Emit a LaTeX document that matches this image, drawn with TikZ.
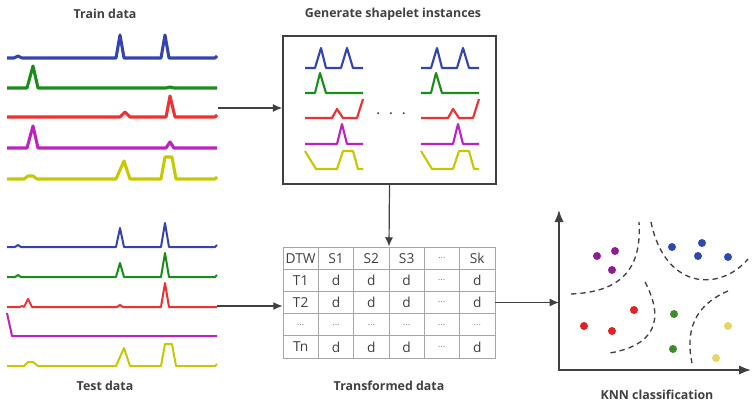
\documentclass[tikz,border=0pt]{standalone}
\usepackage{fontspec}
\setmainfont{Open Sans}
\usetikzlibrary{arrows.meta}
\definecolor{sblue}{HTML}{3344B0}
\definecolor{sgreen}{HTML}{1A8C1A}
\definecolor{sred}{HTML}{EE3030}
\definecolor{smag}{HTML}{BE22BE}
\definecolor{syel}{HTML}{C8C800}
\definecolor{dpurple}{HTML}{8E1E90}
\definecolor{dblue}{HTML}{2F49B0}
\definecolor{dred}{HTML}{E02222}
\definecolor{dgreen}{HTML}{3C8C2C}
\definecolor{dyel}{HTML}{EAD465}
\definecolor{darktxt}{HTML}{404040}
\definecolor{darkline}{HTML}{404040}
\newcommand{\tdots}{{\color{gray}\scriptsize...}}
\tikzset{
  title/.style={font=\bfseries\fontsize{9.3}{11}\selectfont, text=darktxt},
  train/.style={line width=2.3pt, line join=round},
  test/.style={line width=1.5pt, line join=round},
  shapelet/.style={line width=1.6pt, line join=round},
  flow/.style={-{Latex[length=7pt,width=6pt]}, line width=0.9pt, draw=darkline},
  grid line/.style={draw=gray!70, line width=0.6pt},
  cell/.style={font=\fontsize{10.3}{12}\selectfont, text=darktxt},
  bound/.style={dash pattern=on 4pt off 3pt, line width=1pt, draw=darkline},
}
\begin{document}
\begin{tikzpicture}[x=0.75pt,y=-0.75pt]
\useasboundingbox (0,0) rectangle (752,406);

% titles
\node[title] (ttrain) at (105,14) {Train data};
\node[title] (tshp) at (393,14) {Generate shapelet instances};
\node[title] (ttest) at (105,386) {Test data};
\node[title] (ttab) at (389,386) {Transformed data};
\node[title] (tknn) at (657,395) {KNN classification};

% train data
\draw[train, sblue, shift={(0,58)}] plot coordinates {(7,0) (14,0) (18,-2) (22,0) (116,0) (120,-23) (124,0) (161,0) (165,-23) (169,0) (215,0) (217,-2)};
\draw[train, sgreen, shift={(0,88)}] plot coordinates {(7,0) (27,0) (33,-22) (38,0) (166,0) (170,-1) (174,0) (217,0)};
\draw[train, sred, shift={(0,117)}] plot coordinates {(7,0) (120,0) (125,-5) (130,0) (166,0) (170,-21) (175,0) (215,0) (217,-2)};
\draw[train, smag, shift={(0,148)}] plot coordinates {(7,0) (27,0) (33,-22) (38,0) (166,0) (170,-6) (174,0) (217,0)};
\draw[train, syel, shift={(0,179)}] plot coordinates {(7,0) (24,0) (28,-3) (33,-3) (37,0) (116,0) (124,-18) (130,0) (161,0) (165,-22) (172,-22) (176,0) (215,0) (217,-2)};

% test data
\draw[test, sblue, shift={(0,247)}] plot coordinates {(7,0) (15,0) (18,-2) (21,0) (116,0) (120,-19) (124,0) (161,0) (165,-24) (169,0) (215,0) (217,-2)};
\draw[test, sgreen, shift={(0,277)}] plot coordinates {(7,0) (15,0) (18,-2) (21,0) (116,0) (120,-14) (124,0) (161,0) (165,-24) (169,0) (215,0) (217,-2)};
\draw[test, sred, shift={(0,307)}] plot coordinates {(7,0) (20,0) (22,-1) (24,0) (28,-8) (32,0) (117,0) (120,-2) (123,0) (161,0) (165,-24) (169,0) (217,0)};
\draw[test, smag, shift={(0,336)}] plot coordinates {(7,-23) (12,0) (217,0)};
\draw[test, syel, shift={(0,366)}] plot coordinates {(7,0) (24,0) (28,-4) (33,-4) (38,0) (116,0) (124,-18) (130,0) (161,0) (165,-22) (172,-22) (176,0) (215,0) (217,-2)};

% shapelet box
\node[draw=darkline, line width=1.1pt, minimum width=159.75pt, minimum height=111pt, inner sep=0pt] (shp) at (389.5,110) {};
\foreach \dx in {0,116} {
  \draw[shapelet, sblue, shift={(\dx,68)}] plot coordinates {(305,0) (315,0) (321,-20) (326,0) (341,0) (347,-20) (353,0) (363,0)};
  \draw[shapelet, sgreen, shift={(\dx,93)}] plot coordinates {(305,0) (315,0) (320,-20) (326,0) (363,0)};
  \draw[shapelet, sred, shift={(\dx,118)}] plot coordinates {(305,0) (332,0) (337,-9) (343,0) (357,0) (363,-19)};
  \draw[shapelet, smag, shift={(\dx,144)}] plot coordinates {(305,0) (337,0) (342,-20) (347,0) (363,0)};
  \draw[shapelet, syel, shift={(\dx,169)}] plot coordinates {(305,-18) (316,0) (337,0) (343,-18) (353,-18) (358,0) (363,0)};
}
\node[font=\bfseries\fontsize{15}{15}\selectfont, text=darktxt] (more) at (391,114) {$\cdot\,\cdot\,\cdot$};

% transformed table
\node[grid line, minimum width=159pt, minimum height=83.25pt, inner sep=0pt] (tab) at (389,302.5) {};
\foreach \i in {1,...,5}
  \draw[grid line] (283+\i*35.33,247) -- (283+\i*35.33,358);
\foreach \j in {1,...,4}
  \draw[grid line] (283,247+\j*22.2) -- (495,247+\j*22.2);
\foreach \t [count=\i] in {DTW,S1,S2,S3,\tdots,Sk}
  \node[cell] at (265.33+\i*35.33,258.1) {\t};
\foreach \r/\h [count=\j] in {T1/d,T2/d,\tdots/\tdots,Tn/d} {
  \node[cell] at (300.67,258.1+\j*22.2) {\r};
  \foreach \i in {2,3,4,6}
    \node[cell] at (265.33+\i*35.33,258.1+\j*22.2) {\h};
  \node[cell] at (441.67,258.1+\j*22.2) {\tdots};
}

% knn plot
\coordinate (org) at (559,370);
\draw[line width=1.3pt, darkline, {Latex[length=9pt,width=7pt]}-{Latex[length=9pt,width=7pt]}] (559,210) -- (org) -- (751,370);
\draw[bound] (571,294) .. controls (620,292) and (642,270) .. (639,222);
\draw[bound] (651,222) .. controls (665,290) and (720,292) .. (748,259);
\draw[bound] (645,282) .. controls (665,320) and (655,345) .. (610,353);
\draw[bound] (728,291) .. controls (695,305) and (685,330) .. (692,363);
\foreach \p in {(597,256),(615,251),(612,270)}
  \fill[dpurple] \p circle[radius=3pt];
\foreach \p in {(672,247),(702,243),(698,256),(728,257)}
  \fill[dblue] \p circle[radius=3pt];
\foreach \p in {(634,310),(584,326),(612,331)}
  \fill[dred] \p circle[radius=3pt];
\foreach \p in {(674,314),(673,349)}
  \fill[dgreen] \p circle[radius=3pt];
\foreach \p in {(728,326),(716,358)}
  \fill[dyel] \p circle[radius=3pt];

% connectors
\coordinate (trainout) at (218,108);
\coordinate (testout) at (217,306);
\draw[flow] (trainout) -- (trainout -| shp.west);
\draw[flow] (shp.south) -- (tab.north);
\draw[flow] (testout) -- (testout -| tab.west);
\draw[flow] (tab.east) -- (tab.east -| org);
\end{tikzpicture}
\end{document}
